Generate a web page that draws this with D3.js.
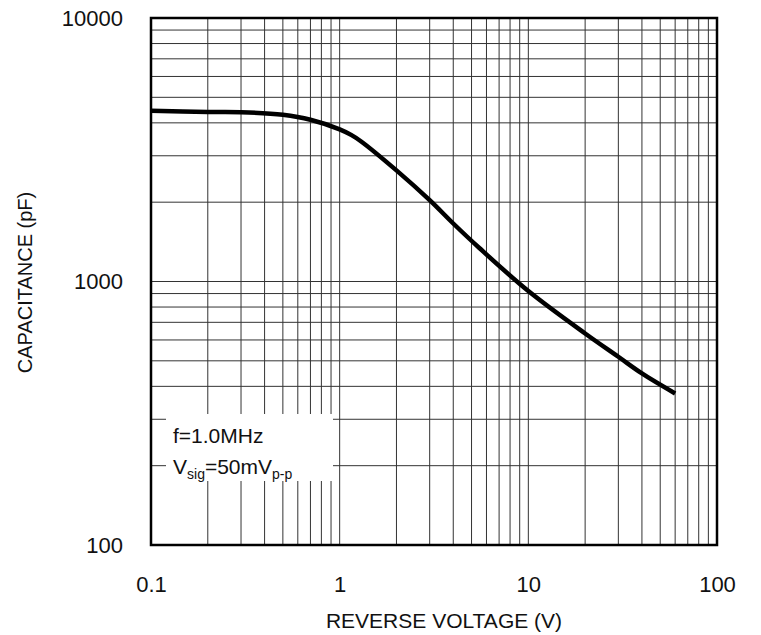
<!DOCTYPE html>
<html>
<head>
<meta charset="utf-8">
<script src="https://cdn.jsdelivr.net/npm/d3@7"></script>
<style>
	body { margin: 0; background: #fff; }
	text { font-family: "Liberation Sans", Arial, sans-serif; fill: #111; }
</style>
</head>
<body>
<svg id="graph"></svg>
<script>
// reverse voltage (V) and capacitance (pF)
var voltage = [0.1, 0.2, 0.3, 0.5, 0.7, 1, 1.15, 1.3, 2, 3, 4, 5.5, 10, 20, 30, 40, 60];
var capacitance = [4450, 4400, 4390, 4290, 4110, 3780, 3600, 3400, 2640, 2035, 1660, 1340, 920, 635, 518, 448, 376];

var xTicks = [0.1, 1, 10, 100];
var yTicks = [100, 1000, 10000];

var margin = {top: 18, right: 44, bottom: 90, left: 151},
	width = 761 - margin.left - margin.right,
	height = 635 - margin.top - margin.bottom;

var x = d3.scaleLog().domain([0.1, 100]).range([0, width]);
var y = d3.scaleLog().domain([100, 10000]).range([height, 0]);

var svg = d3.select("#graph")
	.attr("width", 761)
	.attr("height", 635)
	.append("g")
	.attr("transform", "translate(" + margin.left + "," + margin.top + ")");

// grid (every 1..9 of each decade)
var xGrid = x.ticks().filter(function (v) { return v > 0.1 && v < 100; });
var yGrid = y.ticks().filter(function (v) { return v > 100 && v < 10000; });

svg.append("g")
	.selectAll("line")
	.data(xGrid)
	.enter().append("line")
	.attr("x1", function (d) { return x(d); })
	.attr("x2", function (d) { return x(d); })
	.attr("y1", 0)
	.attr("y2", height)
	.attr("stroke", "#333")
	.attr("stroke-width", 1);

svg.append("g")
	.selectAll("line")
	.data(yGrid)
	.enter().append("line")
	.attr("y1", function (d) { return y(d); })
	.attr("y2", function (d) { return y(d); })
	.attr("x1", 0)
	.attr("x2", width)
	.attr("stroke", "#333")
	.attr("stroke-width", 1);

// legend box covers the grid
svg.append("rect")
	.attr("x", 15)
	.attr("y", 396)
	.attr("width", 167)
	.attr("height", 67)
	.attr("fill", "#fff");

var legend = svg.append("g").attr("transform", "translate(22,0)");
legend.append("text")
	.attr("y", 425)
	.style("font-size", "21px")
	.text("f=1.0MHz");
var vsig = legend.append("text")
	.attr("y", 456)
	.style("font-size", "21px");
vsig.append("tspan").text("V");
vsig.append("tspan").attr("dy", 5).style("font-size", "14px").text("sig");
vsig.append("tspan").attr("dy", -5).text("=50mV");
vsig.append("tspan").attr("dy", 5).style("font-size", "14px").text("p-p");

// axes
var xAxis = d3.axisBottom(x)
	.tickValues(xTicks)
	.tickFormat(function (d) { return d; })
	.tickSize(0)
	.tickPadding(31);
var gx = svg.append("g")
	.attr("transform", "translate(0," + height + ")")
	.call(xAxis);
gx.select(".domain").remove();
gx.selectAll("text").style("font-size", "22px").attr("fill", "#111");

var yAxis = d3.axisLeft(y)
	.tickValues(yTicks)
	.tickFormat(function (d) { return d; })
	.tickSize(0)
	.tickPadding(28);
var gy = svg.append("g").call(yAxis);
gy.select(".domain").remove();
gy.selectAll("text").style("font-size", "22px").attr("fill", "#111");

// frame
svg.append("rect")
	.attr("width", width)
	.attr("height", height)
	.attr("fill", "none")
	.attr("stroke", "#000")
	.attr("stroke-width", 2.5);

// curve
var points = voltage.map(function (v, i) { return {v: v, c: capacitance[i]}; });
var valueline = d3.line()
	.curve(d3.curveCatmullRom.alpha(0.5))
	.x(function (d) { return x(d.v); })
	.y(function (d) { return y(d.c); });
svg.append("path")
	.datum(points)
	.attr("d", valueline)
	.attr("fill", "none")
	.attr("stroke", "#000")
	.attr("stroke-width", 4.5)
	.attr("stroke-linecap", "butt");

// axis titles
svg.append("text")
	.attr("x", width / 2 + 10)
	.attr("y", height + 83)
	.attr("text-anchor", "middle")
	.style("font-size", "21px")
	.text("REVERSE VOLTAGE (V)");

svg.append("text")
	.attr("transform", "translate(" + (-119) + "," + (height / 2 + 1) + ") rotate(-90)")
	.attr("text-anchor", "middle")
	.style("font-size", "20px")
	.text("CAPACITANCE (pF)");
</script>
</body>
</html>
